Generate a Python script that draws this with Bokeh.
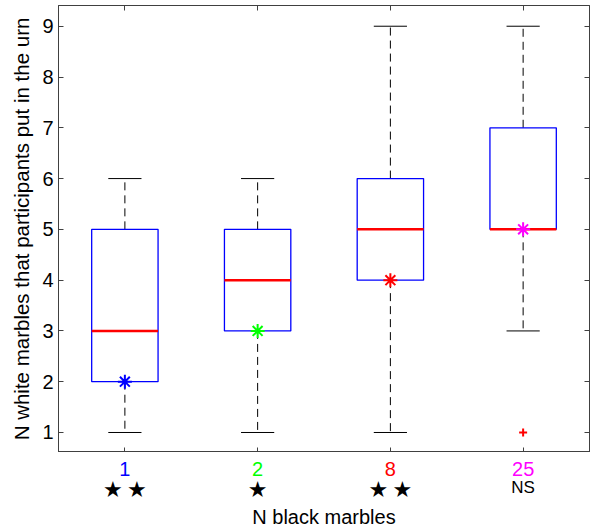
from bokeh.plotting import figure
from bokeh.layouts import column
from bokeh.models import LinearAxis, FixedTicker, Range1d
from bokeh.core.properties import value
from bokeh.embed import file_html
from bokeh.resources import INLINE

# ---- data ----
categories = ["1", "2", "8", "25"]
cat_colors = ["#0000ff", "#00ff00", "#ff0000", "#ff00ff"]
significance = ["**", "*", "**", "NS"]
q1 = [2, 3, 4, 5]
medians = [3, 4, 5, 5]
q3 = [5, 5, 6, 7]
whisker_low = [1, 1, 1, 3]
whisker_high = [6, 6, 9, 9]
means = [2, 3, 4, 5]
outlier_group = [4]
outlier_values = [1]
y_ticks = [1, 2, 3, 4, 5, 6, 7, 8, 9]
x_label = "N black marbles"
y_label = "N white marbles that participants put in the urn"

FONT = "Liberation Sans"
FS = "20px"
AX_COLOR = "#404040"

xs = list(range(1, len(categories) + 1))
box_half = 0.25
cap_half = 0.125

x_range = Range1d(0.5, 4.5)

p = figure(frame_width=531, frame_height=447,
           x_range=x_range, y_range=Range1d(0.606, 9.408),
           x_axis_type=None, y_axis_type=None,
           output_backend="svg", toolbar_location=None,
           min_border_left=58, min_border_right=3, min_border_top=5, min_border_bottom=0)
p.xgrid.visible = False
p.ygrid.visible = False
p.outline_line_color = AX_COLOR


def make_axis(ticks, label=None, labels_on=True):
    ax = LinearAxis(ticker=FixedTicker(ticks=ticks))
    ax.major_tick_in = 5
    ax.major_tick_out = 0
    ax.minor_tick_line_color = None
    ax.axis_line_color = AX_COLOR
    ax.major_tick_line_color = AX_COLOR
    ax.major_label_text_font = FONT
    ax.major_label_text_font_size = FS
    ax.major_label_text_color = "black"
    ax.axis_label_text_font = FONT
    ax.axis_label_text_font_size = FS
    ax.axis_label_text_font_style = "normal"
    ax.axis_label_text_color = "black"
    if label:
        ax.axis_label = label
    if not labels_on:
        ax.major_label_overrides = {t: "" for t in ticks}
        ax.major_label_standoff = 0
        ax.major_label_text_font_size = "0px"
    return ax


left = make_axis(y_ticks, y_label)
left.major_label_standoff = 5
left.axis_label_standoff = 6
left.axis_label_text_font_size = "20.5px"
p.add_layout(left, "left")
p.add_layout(make_axis(y_ticks, labels_on=False), "right")
p.add_layout(make_axis(xs, labels_on=False), "below")
p.add_layout(make_axis(xs, labels_on=False), "above")

# ---- whiskers ----
p.segment(x0=xs, y0=q3, x1=xs, y1=whisker_high, line_color="black", line_width=1, line_dash="8 5")
p.segment(x0=xs, y0=q1, x1=xs, y1=whisker_low, line_color="black", line_width=1, line_dash="8 5")
cap_l = [x - cap_half for x in xs]
cap_r = [x + cap_half for x in xs]
p.segment(x0=cap_l, y0=whisker_high, x1=cap_r, y1=whisker_high, line_color="black", line_width=1)
p.segment(x0=cap_l, y0=whisker_low, x1=cap_r, y1=whisker_low, line_color="black", line_width=1)

# ---- boxes ----
p.quad(left=[x - box_half for x in xs], right=[x + box_half for x in xs],
       bottom=q1, top=q3, fill_color=None, line_color="#0000ff", line_width=1.3)

# ---- medians ----
p.segment(x0=[x - box_half for x in xs], y0=medians, x1=[x + box_half for x in xs], y1=medians,
          line_color="#ff0000", line_width=2.5)

# ---- outliers ----
p.scatter(x=[xs[g - 1] for g in outlier_group], y=outlier_values, marker="cross",
          size=8, line_color="#ff0000", line_width=2)

# ---- means ----
p.scatter(x=xs, y=means, marker="asterisk", size=14, line_color=cat_colors, line_width=2)

# ---- lower strip: coloured category labels, significance marks, x-axis title ----
H2 = 46
p2 = figure(frame_width=531, frame_height=H2,
            x_range=x_range, y_range=Range1d(H2, 0),
            x_axis_type=None, y_axis_type=None,
            output_backend="svg", toolbar_location=None,
            min_border_left=58, min_border_right=3, min_border_top=0, min_border_bottom=34)
p2.xgrid.visible = False
p2.ygrid.visible = False
p2.outline_line_color = None

p2.text(x=xs, y=[16] * len(xs), text=categories, text_color=cat_colors,
        text_font=value(FONT), text_font_size=FS, text_align="center", text_baseline="middle")

star_x, star_off, ns_x, ns_text = [], [], [], []
for x, sig in zip(xs, significance):
    if sig.startswith("*"):
        n = len(sig)
        for k in range(n):
            star_x.append(x)
            star_off.append((k - (n - 1) / 2) * 24)
    else:
        ns_x.append(x)
        ns_text.append(sig)

p2.text(x=star_x, y=[37] * len(star_x), text=["★"] * len(star_x), x_offset=star_off,
        text_color="black", text_font=value("DejaVu Sans"), text_font_size="22px",
        text_align="center", text_baseline="middle")
p2.text(x=ns_x, y=[35] * len(ns_x), text=ns_text, text_color="black",
        text_font=value(FONT), text_font_size="17px", text_align="center", text_baseline="middle")

xaxis = LinearAxis(ticker=FixedTicker(ticks=[]))
xaxis.axis_line_color = None
xaxis.major_tick_line_color = None
xaxis.minor_tick_line_color = None
xaxis.major_label_text_font_size = "0px"
xaxis.major_label_standoff = 0
xaxis.axis_label = x_label
xaxis.axis_label_text_font = FONT
xaxis.axis_label_text_font_size = FS
xaxis.axis_label_text_font_style = "normal"
xaxis.axis_label_text_color = "black"
xaxis.axis_label_standoff = 7
p2.add_layout(xaxis, "below")

layout = column(p, p2, spacing=0)
open("out.html", "w").write(file_html(layout, INLINE))
